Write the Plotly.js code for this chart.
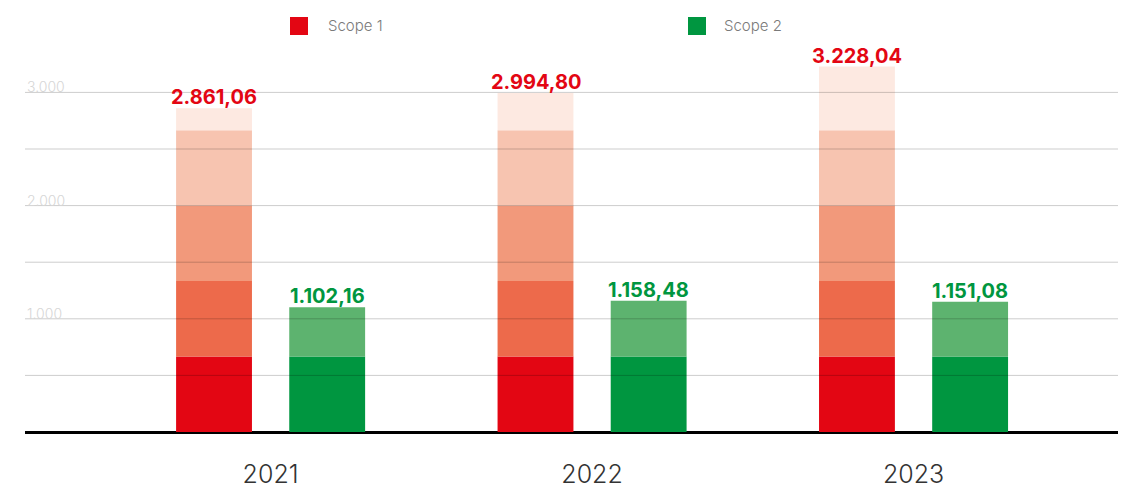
<!DOCTYPE html>
<html>
<head>
<meta charset="utf-8">
<script src="https://cdn.plot.ly/plotly-3.0.1.min.js"></script>
<style>html,body{margin:0;padding:0;background:#fff;}#chart{width:1132px;height:489px;}</style>
</head>
<body>
<div id="chart"></div>
<script>
// ---- data ----
const years = ['2021', '2022', '2023'];
const scope1 = [2861.06, 2994.80, 3228.04];
const scope2 = [1102.16, 1158.48, 1151.08];
const seriesNames = ['Scope 1', 'Scope 2'];
const gridValues = [500, 1000, 1500, 2000, 2500, 3000];
const labeledTicks = [1000, 2000, 3000];

// ---- style ----
const W = 1132, H = 489;
const M = {l: 25, r: 14, t: 40, b: 57};
const bandStep = 2000 / 3;
const redShades = ['#e30613', '#ed6a4b', '#f2997b', '#f7c4b0', '#fde9e1'];
const greenShades = ['#009640', '#5db36f'];
const barWidth = 0.236;
const groupShift = 0.176;
const FONT = 'Inter, "Open Sans", sans-serif';

function fmt(v, dec) {
  const parts = v.toFixed(dec).split('.');
  const intPart = parts[0].replace(/\B(?=(\d{3})+(?!\d))/g, '.');
  return dec ? intPart + ',' + parts[1] : intPart;
}

function bandTraces(values, shades, center, name) {
  const traces = [];
  shades.forEach((col, i) => {
    const lo = i * bandStep;
    const hi = i === shades.length - 1 ? Infinity : (i + 1) * bandStep;
    const lens = values.map(v => {
      const l = Math.min(v, hi) - lo;
      return l > 0 ? l : null;
    });
    traces.push({
      type: 'bar', x: years, y: lens, base: values.map(() => lo),
      offset: center - barWidth / 2, width: barWidth,
      marker: {color: col, line: {width: 0}, opacity: 1},
      name: name, showlegend: false, hoverinfo: 'skip'
    });
  });
  return traces;
}

const data = [
  ...bandTraces(scope1, redShades, -groupShift, seriesNames[0]),
  ...bandTraces(scope2, greenShades, groupShift, seriesNames[1])
];

const plotW = W - M.l - M.r, plotH = H - M.t - M.b;
const pxX = px => (px - M.l) / plotW;
const pxY = py => (H - M.b - py) / plotH;

const shapes = gridValues.map(v => ({
  type: 'line', xref: 'paper', yref: 'y', x0: 0, x1: 1, y0: v, y1: v,
  layer: 'above', line: {color: 'rgba(0,0,0,0.2)', width: 1}
}));

const annotations = [];
labeledTicks.forEach(v => annotations.push({
  xref: 'paper', yref: 'y', x: 0, y: v, xanchor: 'left', yanchor: 'bottom',
  yshift: -5, showarrow: false, text: fmt(v, 0),
  font: {family: FONT, size: 14, color: '#d6d6d6', weight: 300}
}));
years.forEach((yr, i) => {
  annotations.push({
    xref: 'x', yref: 'y', x: i - groupShift, y: scope1[i], xanchor: 'center', yanchor: 'bottom',
    yshift: -3, showarrow: false, text: fmt(scope1[i], 2),
    font: {family: FONT, size: 20, color: '#e30613', weight: 700}
  });
  annotations.push({
    xref: 'x', yref: 'y', x: i + groupShift, y: scope2[i], xanchor: 'center', yanchor: 'bottom',
    yshift: -3, showarrow: false, text: fmt(scope2[i], 2),
    font: {family: FONT, size: 20, color: '#009640', weight: 700}
  });
});

// legend
const legendItems = [
  {name: seriesNames[0], color: redShades[0], sq: 290, tx: 326},
  {name: seriesNames[1], color: greenShades[0], sq: 688, tx: 722}
];
legendItems.forEach(it => {
  shapes.push({
    type: 'rect', xref: 'paper', yref: 'paper',
    x0: pxX(it.sq), x1: pxX(it.sq + 18), y0: pxY(35), y1: pxY(17),
    fillcolor: it.color, line: {width: 0}
  });
  annotations.push({
    xref: 'paper', yref: 'paper', x: pxX(it.tx), y: pxY(26),
    xanchor: 'left', yanchor: 'middle', showarrow: false, text: it.name,
    font: {family: FONT, size: 15, color: '#7a7a7a', weight: 300}
  });
});

const layout = {
  width: W, height: H,
  margin: M,
  paper_bgcolor: '#fff', plot_bgcolor: '#fff',
  barmode: 'overlay', showlegend: false,
  xaxis: {
    type: 'category', range: [-0.764, 2.636], showgrid: false, zeroline: false,
    showline: false, ticks: '', ticklabelstandoff: 25,
    tickfont: {family: FONT, size: 25, color: '#333', weight: 300}, fixedrange: true
  },
  yaxis: {
    range: [0, plotH / (56.6 / 500)], showgrid: false, zeroline: true,
    zerolinecolor: '#000', zerolinewidth: 3, showticklabels: false, ticks: '', fixedrange: true
  },
  shapes: shapes,
  annotations: annotations
};

Plotly.newPlot('chart', data, layout, {displayModeBar: false, staticPlot: true});
</script>
</body>
</html>
